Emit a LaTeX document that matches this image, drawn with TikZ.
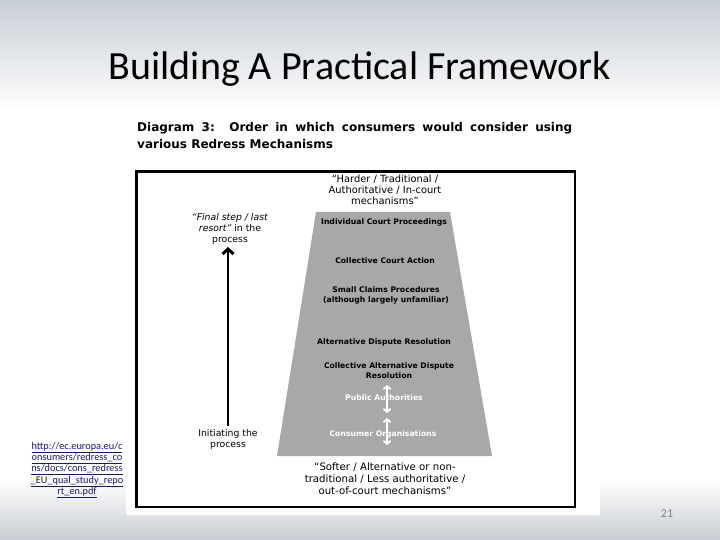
\documentclass[tikz,border=0pt]{standalone}
\usepackage{fontspec}
\setmainfont{DejaVu Sans}
\newfontfamily\titlefont{Carlito}
\usetikzlibrary{arrows.meta}
\definecolor{trapgray}{RGB}{168,168,168}
\definecolor{bgtop}{RGB}{200,206,214}
\definecolor{bgbot}{RGB}{200,204,210}
\definecolor{linkblue}{RGB}{25,25,105}
\definecolor{numgray}{RGB}{130,130,130}
\tikzset{
  lbl/.style={font=\bfseries\fontsize{7.7}{10}\selectfont, align=center, inner sep=0pt},
  wlbl/.style={lbl, text=white},
  quote/.style={font=\fontsize{9.9}{11.3}\selectfont, align=center, inner sep=0pt},
  side/.style={font=\fontsize{9.3}{11}\selectfont, align=center, inner sep=0pt},
  whitearrow/.style={draw=white, line width=1.1pt, {Straight Barb[length=3pt,width=7pt,line width=1.8pt]}-{Straight Barb[length=3pt,width=7pt,line width=1.8pt]}},
  bigarrow/.style={line width=2.8pt, -{Straight Barb[length=5pt,width=11pt,line width=3pt]}}
}
\begin{document}
\begin{tikzpicture}[x=1pt,y=-1pt]
\useasboundingbox (0,0) rectangle (720,540);
% slide background
\fill[white] (0,0) rectangle (720,540);
\shade[top color=bgtop, bottom color=white] (0,0) rectangle (720,112);
\shade[top color=white, bottom color=bgbot] (0,480) rectangle (720,540);
% title
\node[font=\titlefont\fontsize{40}{44}\selectfont, inner sep=0pt, anchor=base] (title) at (360,80) {Building A Practical Framework};
% picture area
\fill[white] (126,110) rectangle (600,515);
\node[anchor=north west, inner sep=0pt, font=\bfseries\fontsize{12}{17}\selectfont] (dtitle) at (137,122.5)
  {\parbox{435pt}{Diagram 3:\ \ Order in which consumers would consider using\linebreak various Redress Mechanisms}};
% frame
\draw[line width=2.6pt] (136.5,171.5) rectangle (575,507) ;
% trapezoid
\fill[trapgray] (316,212) -- (450,212) -- (492,456) -- (277,456) -- cycle;
% labels
\node[quote] (hard) at (385,190) {“Harder / Traditional /\\Authoritative / In-court\\mechanisms”};
\node[lbl] (icp) at (384,222) {Individual Court Proceedings};
\node[lbl] (cca) at (385,261) {Collective Court Action};
\node[lbl] (scp) at (386,295) {Small Claims Procedures\\(although largely unfamiliar)};
\node[lbl] (adr) at (384,342) {Alternative Dispute Resolution};
\node[lbl] (cadr) at (389,371) {Collective Alternative Dispute\\Resolution};
\coordinate (pa1) at (387,385);
\coordinate (pa2) at (387,413);
\coordinate (co1) at (387,418);
\coordinate (co2) at (387,445);
\draw[whitearrow] (pa2) -- (pa1);
\draw[whitearrow] (co1) -- (co2);
\node[wlbl] (pa) at (384,398) {Public Authorities};
\node[wlbl] (co) at (383,434) {Consumer Organisations};
\node[quote, font=\fontsize{10.2}{12}\selectfont] (soft) at (385,479) {“Softer / Alternative or non-\\traditional / Less authoritative /\\out-of-court mechanisms”};
% left side
\node[side] (final) at (230,229) {\textit{“Final step / last}\\\textit{resort”} in the\\process};
\node[side] (init) at (228,439) {Initiating the\\process};
\coordinate (abot) at (228,426);
\coordinate (atop) at (228,247);
\draw[bigarrow] (abot) -- (atop);
% source link
\node[font=\titlefont\fontsize{10.3}{11.3}\selectfont, text=linkblue, align=center, inner sep=0pt] (url) at (77,470)
  {\underline{http://ec.europa.eu/c}\\\underline{onsumers/redress\_co}\\\underline{ns/docs/cons\_redress}\\\underline{\_EU\_qual\_study\_repo}\\\underline{rt\_en.pdf}};
% page number
\node[font=\titlefont\fontsize{12}{14}\selectfont, text=numgray, inner sep=0pt] (pnum) at (667,514) {21};
\end{tikzpicture}
\end{document}
